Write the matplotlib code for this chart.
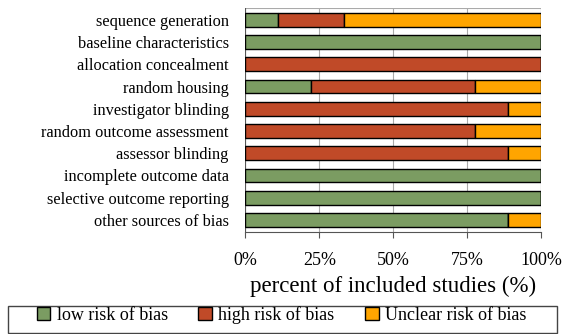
import numpy as np
import matplotlib.pyplot as plt
from matplotlib.patches import Rectangle

plt.rcParams['font.family'] = ['Liberation Serif', 'DejaVu Serif']

# risk of bias domains, top to bottom
categories = ['sequence generation', 'baseline characteristics', 'allocation concealment',
              'random housing', 'investigator blinding', 'random outcome assessment',
              'assessor blinding', 'incomplete outcome data', 'selective outcome reporting',
              'other sources of bias']
# percent of studies (9 studies)
low = [11.1, 100, 0, 22.2, 0, 0, 0, 100, 100, 88.9]
high = [22.2, 0, 100, 55.6, 88.9, 77.8, 88.9, 0, 0, 0]
unclear = [66.7, 0, 0, 22.2, 11.1, 22.2, 11.1, 0, 0, 11.1]

series_names = ['low risk of bias', 'high risk of bias', 'Unclear risk of bias']
colors = ['#7b9c62', '#c04a28', '#ffa500']
xticks = [0, 25, 50, 75, 100]

fig = plt.figure(figsize=(5.63, 3.34), dpi=100)
ax = fig.add_axes([0.436, 0.305, 0.525, 0.672])

y = np.arange(len(categories))
left = np.zeros(len(categories))
for vals, name, c in zip([low, high, unclear], series_names, colors):
    ax.barh(y, vals, left=left, height=0.62, color=c, edgecolor='black',
            linewidth=1.0, label=name, zorder=3)
    left += np.array(vals)

ax.set_ylim(len(categories) - 0.45, -0.55)
ax.set_xlim(0, 100)
ax.set_yticks(y)
ax.set_yticklabels(categories, fontsize=11.8)
ax.set_xticks(xticks)
ax.set_xticklabels([f'{t}%' for t in xticks], fontsize=13)
ax.tick_params(axis='y', length=0, pad=12)
ax.tick_params(axis='x', length=4, color='#555555', pad=10)
ax.xaxis.grid(True, color='#aaaaaa', linewidth=0.8, zorder=0)
for s in ['left', 'right', 'top']:
    ax.spines[s].set_visible(False)
ax.spines['bottom'].set_color('#555555')
ax.axhline(-0.55, color='#aaaaaa', linewidth=0.8)
ax.axvline(0, color='#555555', linewidth=0.8)
ax.axvline(100, color='#aaaaaa', linewidth=0.8)
ax.set_xlabel('percent of included studies (%)', fontsize=16.5, labelpad=5)

leg = fig.legend(loc='center', bbox_to_anchor=(0.5, 0.0575), ncol=3, fontsize=13,
                 frameon=False, handlelength=0.75, handleheight=0.75,
                 handletextpad=0.35, columnspacing=1.7,
                 bbox_transform=fig.transFigure)
fig.patches.append(Rectangle((0.014, 0.003), 0.975, 0.08, transform=fig.transFigure,
                             fill=False, edgecolor='#444444', linewidth=1.0))

fig.savefig('out.png', dpi=100)
